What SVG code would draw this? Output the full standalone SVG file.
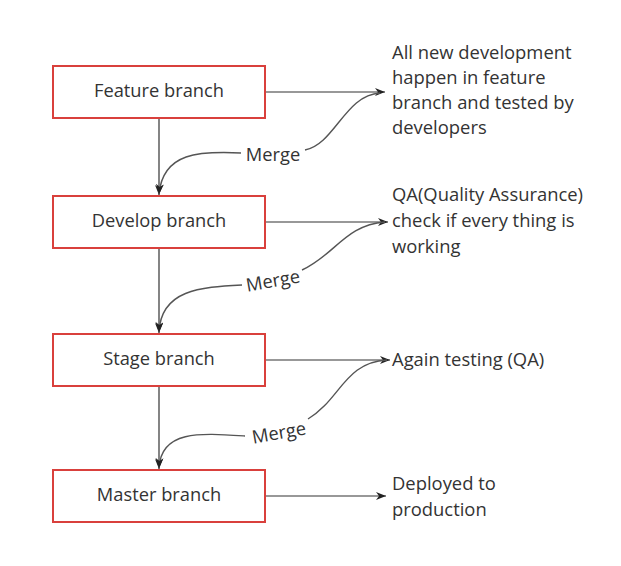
<svg xmlns="http://www.w3.org/2000/svg" width="621" height="566" viewBox="0 0 621 566">
<defs>
<marker id="ah" viewBox="0 0 10 8" refX="10" refY="4" markerWidth="10" markerHeight="8" markerUnits="userSpaceOnUse" orient="auto">
<path d="M0,0 L10,4 L0,8 L3,4 Z" fill="#222"/>
</marker>
</defs>
<style>
.box{fill:#fff;stroke:#d9403c;stroke-width:2}
.lbl{font-family:"Open Sans","Liberation Sans",sans-serif;font-size:18.3px;fill:#333}
.note{font-family:"Open Sans","Liberation Sans",sans-serif;font-size:18.4px;fill:#333}
.ln{fill:none;stroke:#333;stroke-width:1.2}
.cv{fill:none;stroke:#555;stroke-width:1.4}
</style>
<rect width="621" height="566" fill="#fff"/>
<g id="connectors">
<path class="ln" d="M159,119 L159,195" marker-end="url(#ah)"/>
<path class="ln" d="M159,249 L159,333" marker-end="url(#ah)"/>
<path class="ln" d="M159,387 L159,469" marker-end="url(#ah)"/>
<path class="ln" d="M266,92 L385,92" marker-end="url(#ah)"/>
<path class="ln" d="M266,222 L388,222" marker-end="url(#ah)"/>
<path class="ln" d="M266,360 L390,360" marker-end="url(#ah)"/>
<path class="ln" d="M266,496 L386,496" marker-end="url(#ah)"/>
<path class="cv" d="M380,93 C345,95 335,144 305,150"/>
<path class="cv" d="M241,153 C200,151 163,152 159,194" marker-end="url(#ah)"/>
<path class="cv" d="M385,222 C345,225 335,255 302,270"/>
<path class="cv" d="M242,285 C200,287 161,290 159,332" marker-end="url(#ah)"/>
<path class="cv" d="M387,360 C345,362 340,400 308,419"/>
<path class="cv" d="M245,436 C200,433 161,430 159,468" marker-end="url(#ah)"/>
<text class="lbl" x="273" y="161" text-anchor="middle">Merge</text>
<text class="lbl" x="273" y="287" text-anchor="middle" transform="rotate(-10 273 281)">Merge</text>
<text class="lbl" x="279" y="439" text-anchor="middle" transform="rotate(-10 279 433)">Merge</text>
</g>
<g id="feature"><rect class="box" x="53" y="66" width="212" height="52"/><text class="lbl" x="159" y="97" text-anchor="middle">Feature branch</text></g>
<g id="develop"><rect class="box" x="53" y="196" width="212" height="52"/><text class="lbl" x="159" y="227" text-anchor="middle">Develop branch</text></g>
<g id="stage"><rect class="box" x="53" y="334" width="212" height="52"/><text class="lbl" x="159" y="365" text-anchor="middle">Stage branch</text></g>
<g id="master"><rect class="box" x="53" y="470" width="212" height="52"/><text class="lbl" x="159" y="501" text-anchor="middle">Master branch</text></g>
<g id="note1"><text class="note" x="392" y="59">All new development</text><text class="note" x="392" y="84">happen in feature</text><text class="note" x="392" y="109">branch and tested by</text><text class="note" x="392" y="134">developers</text></g>
<g id="note2"><text class="note" x="392" y="201">QA(Quality Assurance)</text><text class="note" x="392" y="227">check if every thing is</text><text class="note" x="392" y="253">working</text></g>
<g id="note3"><text class="note" x="392" y="366">Again testing (QA)</text></g>
<g id="note4"><text class="note" x="392" y="490">Deployed to</text><text class="note" x="392" y="516">production</text></g>
</svg>
